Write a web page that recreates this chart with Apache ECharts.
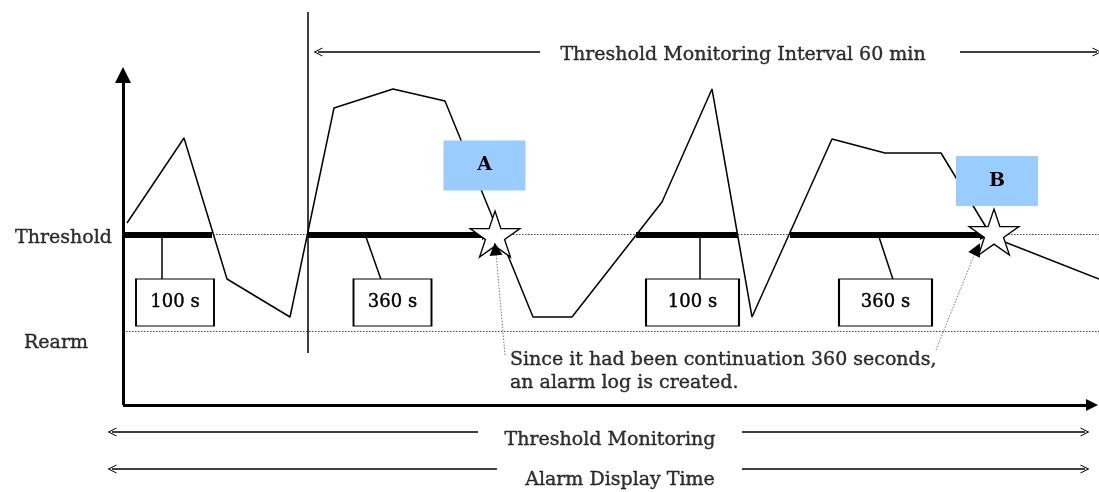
<!DOCTYPE html>
<html>
<head>
<meta charset="utf-8">
<script src="https://cdn.jsdelivr.net/npm/echarts@6/dist/echarts.min.js"></script>
<style>html,body{margin:0;padding:0;background:#fff;}#c{width:1099px;height:492px;}</style>
</head>
<body>
<div id="c"></div>
<script>
// ---- data (time along x, measured level along y) ----
const timeValues  = [4, 61, 104, 167, 211, 270, 322, 410, 449, 539, 589, 629, 709, 762, 818, 869, 976];
const levelValues = [182, 267, 126, 88, 297, 316, 304, 88, 88, 203, 316, 88, 266, 252, 252, 168, 126];
const thresholdLevel = 171;
const rearmLevel = 74;
// periods above threshold
const exceedStart = [0, 185, 513, 667];
const exceedEnd   = [89, 364, 615, 862];
const exceedArrow = [false, true, false, true];
const durationLabels = ['100 s', '360 s', '100 s', '360 s'];
const durationBoxTime = [52, 269.5, 569.5, 762.5];
const durationBoxLevel = 102.5;
const durationLinkFrom = [39, 243, 577, 756];
const durationLinkTo   = [39, 258, 577, 770];
// alarm events
const alarmNames = ['A', 'B'];
const alarmTimes = [372, 871];
const alarmLevels = [171, 173];
const alarmTagTimes = [361.5, 874];
const alarmTagLevels = [239.5, 224];
const noteLines = ['Since it had been continuation 360 seconds,', 'an alarm log is created.'];
const intervalLabel = 'Threshold Monitoring Interval 60 min';
const intervalStartTime = 185;
const monitorLabel = 'Threshold Monitoring';
const displayLabel = 'Alarm Display Time';

const FONT = 'DejaVu Serif';
const FS = 19;
const TXT = { color: '#000', textBorderColor: '#000', textBorderWidth: 0.4 };
const starPath = 'path://M50,0 L61.23,34.55 L97.55,34.55 L68.17,55.9 L79.39,90.45 L50,69.1 L20.61,90.45 L31.83,55.9 L2.45,34.55 L38.77,34.55 Z';
const chevron = 'path://M5,0 L10,10 L8.8,10 L5,2.4 L1.2,10 L0,10 Z';

function seg(coords, style, sym, symSize, z) {
  return {
    type: 'lines', coordinateSystem: 'cartesian2d', polyline: false, silent: true,
    z: z || 2,
    symbol: sym || ['none', 'none'], symbolSize: symSize || 10,
    lineStyle: Object.assign({ color: '#000', width: 1.5, opacity: 1, curveness: 0 }, style),
    data: coords.map(c => ({ coords: c }))
  };
}
function textAt(x, y, text, opts) {
  return {
    type: 'scatter', silent: true, z: (opts && opts.z) || 5,
    symbol: 'rect', symbolSize: 1, itemStyle: { color: 'rgba(0,0,0,0)' },
    label: Object.assign({ show: true, position: 'inside', formatter: text,
      fontFamily: FONT, fontSize: FS, align: 'center', verticalAlign: 'middle' }, TXT, opts || {}),
    data: [[x, y]]
  };
}

const series = [];
// reference dotted lines
series.push(seg([[[0, thresholdLevel], [976, thresholdLevel]], [[0, rearmLevel], [976, rearmLevel]]],
  { type: [1.5, 1.5], width: 1, color: '#444' }, null, null, 1));
// measured level line
series.push({
  type: 'line', silent: true, z: 3, symbol: 'none', animation: false,
  lineStyle: { color: '#000', width: 1.5 },
  data: timeValues.map((t, i) => [t, levelValues[i]])
});
// axes with arrows
series.push(seg([[[0, 0], [0, 330]]], { width: 3 }, ['none', 'triangle'], [14, 16], 4));
series.push(seg([[[0, 0], [969, 0]]], { width: 3 }, ['none', 'triangle'], [12, 12], 4));
// vertical marker of interval start
series.push(seg([[[intervalStartTime, 393], [intervalStartTime, 52]]], { width: 1.5 }, null, null, 4));
// thick exceed bars
exceedStart.forEach((s, i) => {
  series.push(seg([[[s, thresholdLevel - 1], [exceedEnd[i], thresholdLevel - 1]]], { width: 6 },
    exceedArrow[i] ? ['none', 'triangle'] : ['none', 'none'], [11, 10], 4));
});
// duration connectors
series.push(seg(durationLinkFrom.map((f, i) => [[f, thresholdLevel - 3], [durationLinkTo[i], durationBoxLevel + 23]]), { width: 1.5 }, null, null, 4));
// duration boxes
durationLabels.forEach((lab, i) => {
  series.push({
    type: 'scatter', silent: true, z: 6,
    symbol: 'rect', symbolSize: [i < 2 ? 78 : 93, 47],
    itemStyle: { color: '#fff', borderColor: '#000', borderWidth: 1.5, opacity: 1 },
    label: Object.assign({ show: true, position: 'inside', formatter: lab, fontFamily: FONT, fontSize: 18 }, TXT),
    data: [[durationBoxTime[i], durationBoxLevel]]
  });
});
// alarm tags (blue)
series.push({
  type: 'scatter', silent: true, z: 7,
  symbol: 'rect', symbolSize: [82, 50],
  itemStyle: { color: '#99CCFF', opacity: 1 },
  label: { show: true, position: 'inside', formatter: p => alarmNames[p.dataIndex], color: '#000',
    fontFamily: FONT, fontSize: 19, fontWeight: 'bold' },
  data: alarmTagTimes.map((t, i) => [t, alarmTagLevels[i]])
});
// stars
series.push({
  type: 'scatter', silent: true, z: 8,
  symbol: starPath, symbolSize: [50, 46],
  itemStyle: { color: '#fff', borderColor: '#000', borderWidth: 1.3, opacity: 1 },
  data: alarmTimes.map((t, i) => [t, alarmLevels[i]])
});
// dotted leaders to note
series.push(seg([[[382, 50], [373, 152]], [[813, 55], [852, 152]]],
  { type: [1.5, 1.5], width: 1, color: '#777' }, null, null, 9));
series.push(seg([[[372.6, 154], [372.4, 156]], [[853, 154], [854, 156]]],
  { width: 1, color: '#000' }, ['none', 'triangle'], [10, 13], 9));
// note text
series.push(textAt(387, 45, noteLines[0], { align: 'left' }));
series.push(textAt(387, 22, noteLines[1], { align: 'left' }));
// left labels
series.push(textAt(-11, 167, 'Threshold', { align: 'right' }));
series.push(textAt(-67, 62, 'Rearm'));
// top interval arrows and text
series.push(seg([[[417, 353], [195, 353]], [[837, 353], [974, 353]]], { width: 1.5 }, ['none', chevron], [9, 9], 4));
series.push(textAt(620, 350, intervalLabel));
// bottom arrows and text
series.push(seg([[[355, -27], [-11, -27]], [[619, -27], [962, -27]], [[374, -64], [-11, -64]], [[619, -64], [962, -64]]],
  { width: 1.5 }, ['none', chevron], [9, 9], 4));
series.push(textAt(487, -35, monitorLabel));
series.push(textAt(497, -75, displayLabel));

const chart = echarts.init(document.getElementById('c'), null, { renderer: 'canvas' });
chart.setOption({
  animation: false,
  backgroundColor: '#fff',
  grid: { left: 0, right: 0, top: 0, bottom: 0 },
  xAxis: { type: 'value', min: -123, max: 976, show: false },
  yAxis: { type: 'value', min: -87, max: 405, show: false },
  series: series
});
</script>
</body>
</html>
